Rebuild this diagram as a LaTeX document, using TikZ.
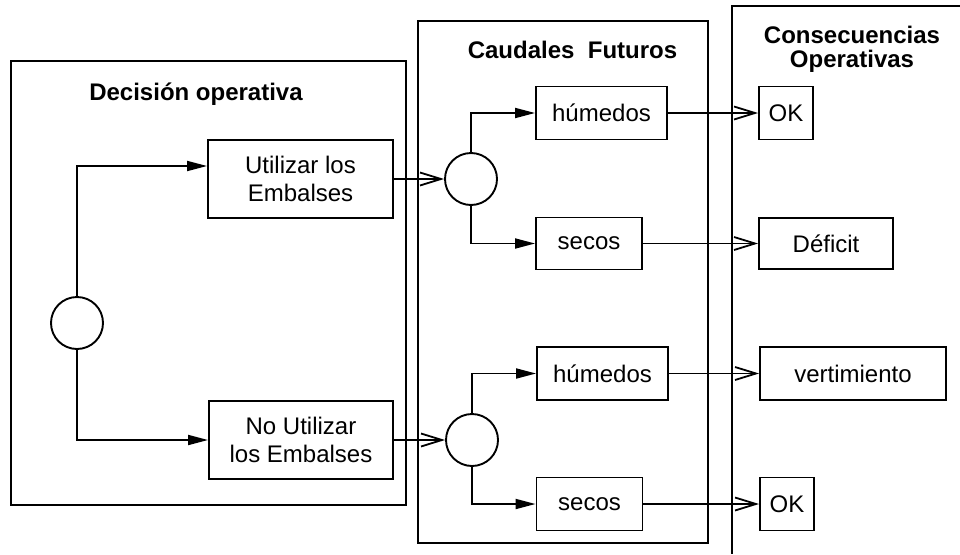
\documentclass[tikz,border=0pt]{standalone}
\usepackage{fontspec}
\setmainfont{Liberation Sans}
\usetikzlibrary{arrows.meta}
\begin{document}
\begin{tikzpicture}[x=1pt,y=-1pt,
  line width=1.8pt,
  every node/.style={font=\fontsize{24}{28}\selectfont},
  panel/.style={draw, line width=2pt},
  box/.style={draw, rectangle, inner sep=0pt, align=center, line width=1.9pt},
  chance/.style={draw, circle, minimum size=52pt, inner sep=0pt, line width=1.9pt},
  ttl/.style={font=\fontsize{24}{24}\selectfont\bfseries, anchor=base, inner sep=0pt},
  inarrow/.style={-{Triangle[length=20pt,width=10pt]}},
  outarrow/.style={-{Straight Barb[length=21pt,width=13pt]}}
]
\useasboundingbox (0,0) rectangle (960,554);
\fill[white] (0,0) rectangle (960,554);

% panels
\draw[panel] (11,61) rectangle (406,505);
\draw[panel] (418,21) rectangle (708,543);
\draw[panel] (960,6) -- (732,6) -- (732,554);

% titles
\node[ttl] (t1) at (196,100) {Decisión operativa};
\node[ttl] (t2) at (572.5,58) {Caudales\ \ Futuros};
\node[ttl] (t3) at (852,43) {Consecuencias};
\node[ttl] (t4) at (852,67) {Operativas};

% decision panel
\node[chance] (d0) at (77,323) {};
\node[box, minimum width=185pt, minimum height=78pt] (u) at (300.5,179) {Utilizar los\\Embalses};
\node[box, minimum width=184pt, minimum height=78pt] (n) at (301,440) {No Utilizar\\los Embalses};

% future flows panel
\node[chance] (c1) at (471,179) {};
\node[chance] (c2) at (472,440) {};
\node[box, minimum width=131pt, minimum height=53pt] (h1) at (601.5,113) {húmedos};
\node[box, minimum width=106pt, minimum height=52pt] (s1) at (589,243.5) {secos};
\node[box, minimum width=131pt, minimum height=53pt] (h2) at (602.5,373.5) {húmedos};
\node[box, minimum width=106pt, minimum height=53pt] (s2) at (589.5,504) {secos};

% consequences panel
\node[box, minimum width=54pt, minimum height=53pt] (ok1) at (786,113) {OK};
\node[box, minimum width=134pt, minimum height=51pt] (def) at (826,243.5) {Déficit};
\node[box, minimum width=186pt, minimum height=53pt] (vert) at (853,373.5) {vertimiento};
\node[box, minimum width=54pt, minimum height=53pt] (ok2) at (787,504) {OK};

% connectors
\draw[inarrow] (d0.north) |- ([yshift=13pt]u.west);
\draw[inarrow] (d0.south) |- (n.west);
\draw[outarrow] (u.east) -- (c1.west);
\draw[outarrow] (n.east) -- (c2.west);
\draw[inarrow] (c1.north) |- (h1.west);
\draw[inarrow] (c1.south) |- (s1.west);
\draw[inarrow] (c2.north) |- (h2.west);
\draw[inarrow] (c2.south) |- (s2.west);
\draw[outarrow] (h1.east) -- (ok1.west);
\draw[outarrow] (s1.east) -- (def.west);
\draw[outarrow] (h2.east) -- (vert.west);
\draw[outarrow] (s2.east) -- (ok2.west);
\end{tikzpicture}
\end{document}
